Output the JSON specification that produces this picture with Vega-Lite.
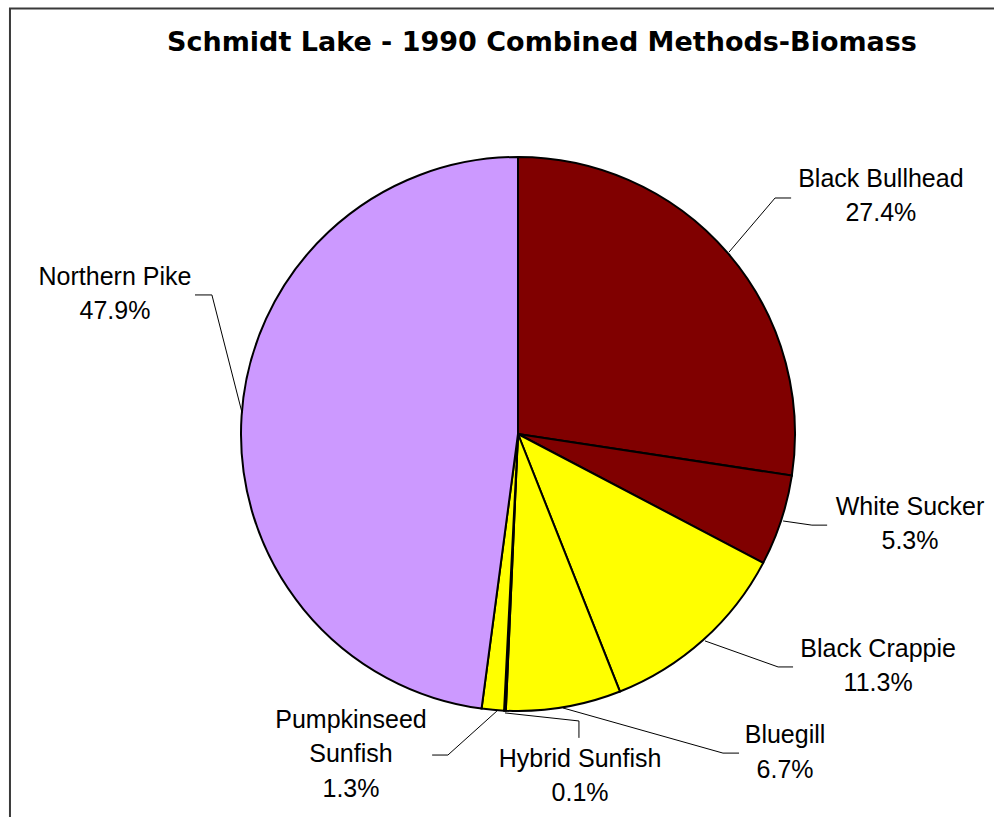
{
  "$schema": "https://vega.github.io/schema/vega-lite/v6.json",
  "width": 994,
  "height": 817,
  "autosize": {"type": "none"},
  "padding": 0,
  "background": "white",
  "config": {"view": {"stroke": null}},
  "title": {
    "text": "Schmidt Lake - 1990 Combined Methods-Biomass",
    "font": "DejaVu Sans",
    "fontSize": 27,
    "fontWeight": "bold",
    "color": "black",
    "anchor": "middle",
    "frame": "group",
    "baseline": "alphabetic",
    "offset": -50,
    "dx": 45,
    "dy": 28
  },
  "datasets": {
    "fish": [
      {"idx": 1, "species": "Black Bullhead", "label": "Black Bullhead", "pct": 27.4, "lx": 131.0, "ly": 89.2},
      {"idx": 2, "species": "White Sucker", "label": "White Sucker", "pct": 5.3, "lx": 141.5, "ly": -29.2},
      {"idx": 3, "species": "Black Crappie", "label": "Black Crappie", "pct": 11.3, "lx": 130.0, "ly": -80.5},
      {"idx": 4, "species": "Bluegill", "label": "Bluegill", "pct": 6.7, "lx": 96.4, "ly": -111.6},
      {"idx": 5, "species": "Hybrid Sunfish", "label": "Hybrid Sunfish", "pct": 0.1, "lx": 22.4, "ly": -120.2},
      {"idx": 6, "species": "Pumpkinseed Sunfish", "label": "Pumpkinseed\nSunfish", "pct": 1.3, "lx": -60.3, "ly": -106.1},
      {"idx": 7, "species": "Northern Pike", "label": "Northern Pike", "pct": 47.9, "lx": -145.5, "ly": 53.8}
    ],
    "leaders": [
      {"species": "Black Bullhead", "seq": 1, "x": 76.2, "y": 65.7},
      {"species": "Black Bullhead", "seq": 2, "x": 92.8, "y": 85.2},
      {"species": "Black Bullhead", "seq": 3, "x": 98.6, "y": 85.2},
      {"species": "White Sucker", "seq": 1, "x": 95.7, "y": -31.4},
      {"species": "White Sucker", "seq": 2, "x": 106.1, "y": -32.9},
      {"species": "White Sucker", "seq": 3, "x": 111.6, "y": -32.9},
      {"species": "Black Crappie", "seq": 1, "x": 67.5, "y": -74.7},
      {"species": "Black Crappie", "seq": 2, "x": 93.9, "y": -84.1},
      {"species": "Black Crappie", "seq": 3, "x": 99.3, "y": -84.1},
      {"species": "Bluegill", "seq": 1, "x": 16.2, "y": -98.9},
      {"species": "Bluegill", "seq": 2, "x": 74.0, "y": -115.2},
      {"species": "Bluegill", "seq": 3, "x": 79.8, "y": -115.2},
      {"species": "Hybrid Sunfish", "seq": 1, "x": -4.7, "y": -100.7},
      {"species": "Hybrid Sunfish", "seq": 2, "x": 22.0, "y": -103.6},
      {"species": "Hybrid Sunfish", "seq": 3, "x": 22.0, "y": -109.7},
      {"species": "Pumpkinseed Sunfish", "seq": 1, "x": -7.6, "y": -100.0},
      {"species": "Pumpkinseed Sunfish", "seq": 2, "x": -25.3, "y": -115.9},
      {"species": "Pumpkinseed Sunfish", "seq": 3, "x": -31.0, "y": -115.9},
      {"species": "Northern Pike", "seq": 1, "x": -99.6, "y": 7.6},
      {"species": "Northern Pike", "seq": 2, "x": -110.5, "y": 50.2},
      {"species": "Northern Pike", "seq": 3, "x": -116.6, "y": 50.2}
    ]
  },
  "layer": [
    {
      "data": {"values": [{"frame": "chart area"}]},
      "mark": {"type": "rect", "filled": false, "stroke": "#3a3a3a", "strokeWidth": 2},
      "encoding": {
        "x": {"datum": -183.4, "type": "quantitative", "scale": {"domain": [-187.0, 171.84], "nice": false, "zero": false}, "axis": null},
        "x2": {"datum": 200},
        "y": {"datum": 153.6, "type": "quantitative", "scale": {"domain": [-138.27, 156.68], "nice": false, "zero": false}, "axis": null},
        "y2": {"datum": -150}
      }
    },
    {
      "data": {"name": "fish"},
      "mark": {"type": "arc", "outerRadius": 277, "stroke": "black", "strokeWidth": 2},
      "encoding": {
        "theta": {"field": "pct", "type": "quantitative", "stack": true},
        "order": {"field": "idx", "type": "quantitative"},
        "color": {
          "field": "species",
          "type": "nominal",
          "scale": {
            "domain": ["Black Bullhead", "White Sucker", "Black Crappie", "Bluegill", "Hybrid Sunfish", "Pumpkinseed Sunfish", "Northern Pike"],
            "range": ["#800000", "#800000", "#FFFF00", "#FFFF00", "#FFFF00", "#FFFF00", "#CC99FF"]
          },
          "legend": null
        },
        "x": {"datum": 0, "type": "quantitative", "scale": {"domain": [-187.0, 171.84], "nice": false, "zero": false}, "axis": null},
        "y": {"datum": 0, "type": "quantitative", "scale": {"domain": [-138.27, 156.68], "nice": false, "zero": false}, "axis": null}
      }
    },
    {
      "data": {"name": "leaders"},
      "mark": {"type": "line", "color": "black", "strokeWidth": 1},
      "encoding": {
        "x": {"field": "x", "type": "quantitative", "scale": {"domain": [-187.0, 171.84], "nice": false, "zero": false}, "axis": null},
        "y": {"field": "y", "type": "quantitative", "scale": {"domain": [-138.27, 156.68], "nice": false, "zero": false}, "axis": null},
        "detail": {"field": "species", "type": "nominal"},
        "order": {"field": "seq", "type": "quantitative"}
      }
    },
    {
      "data": {"name": "fish"},
      "transform": [
        {"calculate": "datum.label + '\\n' + format(datum.pct, '.1f') + '%'", "as": "txt"}
      ],
      "mark": {"type": "text", "font": "Liberation Sans", "fontSize": 25, "align": "center", "baseline": "alphabetic", "lineBreak": "\n", "lineHeight": 34.5, "color": "black"},
      "encoding": {
        "x": {"field": "lx", "type": "quantitative", "scale": {"domain": [-187.0, 171.84], "nice": false, "zero": false}, "axis": null},
        "y": {"field": "ly", "type": "quantitative", "scale": {"domain": [-138.27, 156.68], "nice": false, "zero": false}, "axis": null},
        "text": {"field": "txt", "type": "nominal"}
      }
    }
  ]
}
